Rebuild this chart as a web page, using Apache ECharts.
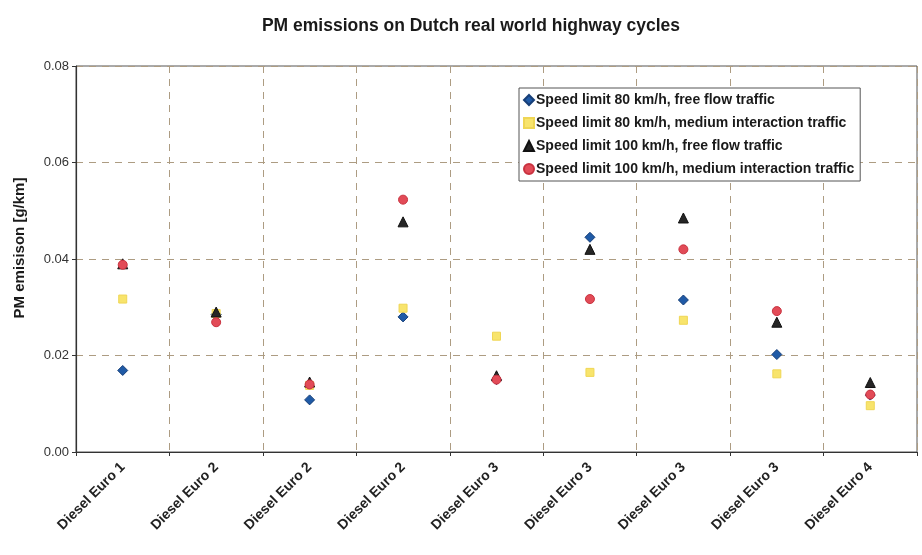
<!DOCTYPE html>
<html>
<head>
<meta charset="utf-8">
<script src="https://cdn.jsdelivr.net/npm/echarts@6/dist/echarts.min.js"></script>
<style>
  html, body { margin: 0; padding: 0; background: #fff; }
  #chart { width: 922px; height: 555px; }
</style>
</head>
<body>
<div id="chart"></div>
<script>
// Vehicle classes along the x axis
var categories = [
  'Diesel Euro 1', 'Diesel Euro 2', 'Diesel Euro 2', 'Diesel Euro 2',
  'Diesel Euro 3', 'Diesel Euro 3', 'Diesel Euro 3', 'Diesel Euro 3',
  'Diesel Euro 4'
];

// PM emission per cycle [g/km]
var speed80Free   = [0.0169, 0.0285, 0.0108, 0.0280, 0.0150, 0.0445, 0.0315, 0.0202, 0.0118];
var speed80Medium = [0.0317, 0.0287, 0.0138, 0.0298, 0.0240, 0.0165, 0.0273, 0.0162, 0.0096];
var speed100Free  = [0.0390, 0.0290, 0.0145, 0.0477, 0.0158, 0.0420, 0.0485, 0.0269, 0.0144];
var speed100Medium= [0.0388, 0.0269, 0.0140, 0.0523, 0.0150, 0.0317, 0.0420, 0.0292, 0.0119];

var seriesNames = [
  'Speed limit 80 km/h, free flow traffic',
  'Speed limit 80 km/h, medium interaction traffic',
  'Speed limit 100 km/h, free flow traffic',
  'Speed limit 100 km/h, medium interaction traffic'
];

var yTicks = { min: 0, max: 0.08, interval: 0.02 };

var chart = echarts.init(document.getElementById('chart'));

function scatter(name, data, symbol, size, color, border) {
  return {
    name: name,
    type: 'scatter',
    data: data,
    symbol: symbol,
    symbolSize: size,
    itemStyle: { color: color, borderColor: border, borderWidth: 1, opacity: 1 },
    emphasis: { disabled: true }
  };
}

var font = '"Liberation Sans", Arial, sans-serif';

chart.setOption({
  animation: false,
  backgroundColor: '#ffffff',
  textStyle: { fontFamily: font },
  title: {
    text: 'PM emissions on Dutch real world highway cycles',
    left: 466,
    textAlign: 'center',
    top: 12,
    textStyle: { fontFamily: font, fontSize: 17.5, fontWeight: 'bold', color: '#1a1a1a' }
  },
  legend: {
    orient: 'vertical',
    left: 519,
    top: 88,
    itemWidth: 10,
    itemHeight: 10,
    itemGap: 9,
    padding: [5, 6, 5, 4],
    borderColor: '#555',
    borderWidth: 1,
    backgroundColor: '#fff',
    textStyle: { fontFamily: font, fontSize: 14, fontWeight: 'bold', color: '#1a1a1a', padding: [0, 0, 0, -3] },
    data: seriesNames
  },
  grid: {
    left: 76,
    right: 5,
    top: 66,
    bottom: 103,
    outerBoundsMode: 'none',
    show: true,
    borderColor: '#555',
    borderWidth: 1
  },
  xAxis: {
    type: 'category',
    data: categories,
    boundaryGap: true,
    axisLine: { lineStyle: { color: '#333', width: 1.2 } },
    axisTick: { show: true, length: 4, lineStyle: { color: '#333' } },
    axisLabel: {
      rotate: 45,
      interval: 0,
      margin: 13,
      fontFamily: font,
      fontSize: 14,
      fontWeight: 'bold',
      color: '#222'
    },
    splitLine: {
      show: true,
      interval: 0,
      lineStyle: { color: '#ad9c82', type: [7, 6], width: 1 }
    }
  },
  yAxis: {
    type: 'value',
    min: yTicks.min,
    max: yTicks.max,
    interval: yTicks.interval,
    name: 'PM emisison [g/km]',
    nameLocation: 'middle',
    nameGap: 49,
    nameTextStyle: { fontFamily: font, fontSize: 15, fontWeight: 'bold', color: '#1a1a1a', padding: [0, 0, 0, 22] },
    axisLine: { show: true, lineStyle: { color: '#333', width: 1.2 } },
    axisTick: { show: true, length: 4, lineStyle: { color: '#333' } },
    axisLabel: {
      fontFamily: font,
      fontSize: 13,
      color: '#333',
      margin: 7,
      formatter: function (v) { return v.toFixed(2); }
    },
    splitLine: {
      show: true,
      lineStyle: { color: '#ad9c82', type: [7, 6], width: 1 }
    }
  },
  series: [
    scatter(seriesNames[0], speed80Free, 'diamond', 10, '#1f5aa6', '#173f78'),
    scatter(seriesNames[1], speed80Medium, 'rect', 8, '#f8e46c', '#efd655'),
    scatter(seriesNames[2], speed100Free, 'triangle', 10, '#262626', '#111'),
    scatter(seriesNames[3], speed100Medium, 'circle', 9, '#e24b57', '#c9323f')
  ]
});
</script>
</body>
</html>
